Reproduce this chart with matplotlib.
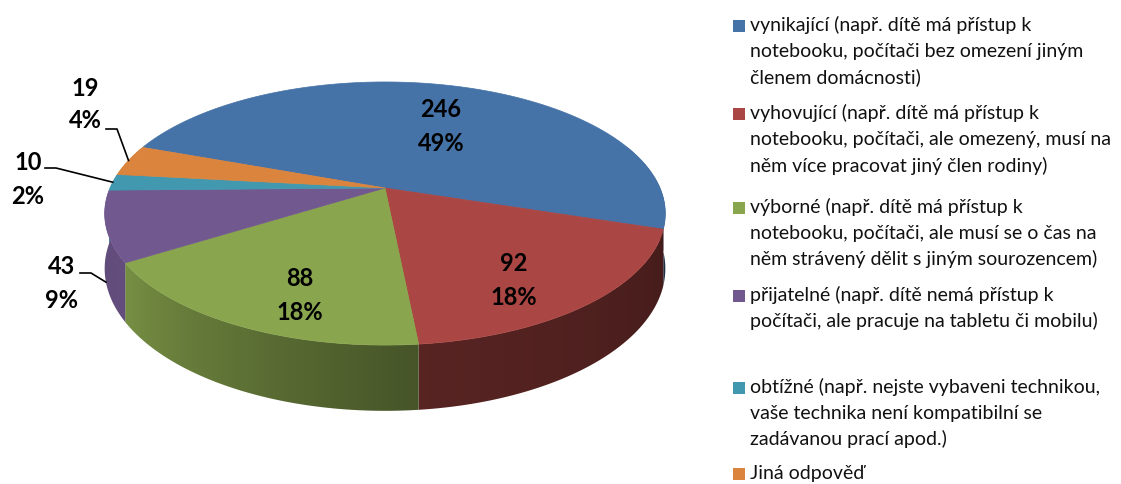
import numpy as np
import matplotlib
matplotlib.use("Agg")
import matplotlib.pyplot as plt
from matplotlib.patches import Polygon, Rectangle
from matplotlib.colors import to_rgb

plt.rcParams['font.family'] = ['Lato', 'DejaVu Sans']

# data
labels = [
    ["vynikající (např. dítě má přístup k", "notebooku, počítači bez omezení jiným", "členem domácnosti)"],
    ["vyhovující (např. dítě má přístup k", "notebooku, počítači, ale omezený, musí na", "něm více pracovat jiný člen rodiny)"],
    ["výborné (např. dítě má přístup k", "notebooku, počítači, ale musí se o čas na", "něm strávený dělit s jiným sourozencem)"],
    ["přijatelné (např. dítě nemá přístup k", "počítači, ale pracuje na tabletu či mobilu)"],
    ["obtížné (např. nejste vybaveni technikou,", "vaše technika není kompatibilní se", "zadávanou prací apod.)"],
    ["Jiná odpověď"],
]
values = [246, 92, 88, 43, 10, 19]
colors = ["#4572A7", "#AA4643", "#89A54E", "#71588F", "#4198AF", "#DB843D"]

# pie geometry (pixels)
cx, cy = 385, 188
A, B, k, H = 275, 126.6, 0.194, 53
start = 160.0


def proj(theta, r=1.0, down=0.0):
    t = np.radians(theta)
    f = 1.0 / (1.0 + k * r * np.sin(t))
    return cx + A * r * np.cos(t) * f, cy - B * r * np.sin(t) * f + down * f


def shade(theta):
    return np.interp(theta, [-200, -150, -86, -20, 20], [0.82, 0.88, 0.52, 0.41, 0.4])


fig = plt.figure(figsize=(11.21, 4.84), dpi=100)
ax = fig.add_axes([0, 0, 1, 1])

total = sum(values)
bounds = start - 360 * np.concatenate([[0], np.cumsum(values)]) / total

# map screen x on the front rim back to an angle, for shading
front_t = np.linspace(-169, -11, 400)
front_x, _ = proj(front_t)

# side walls with horizontal gradient
for i, v in enumerate(values):
    a0, a1 = bounds[i], bounds[i + 1]
    lo, hi = max(a1, -200), min(a0, 20)
    if lo >= hi:
        continue
    ts = np.linspace(hi, lo, 300)
    xt, yt = proj(ts)
    xb, yb = proj(ts[::-1], down=H)
    pts = list(zip(xt, yt)) + list(zip(xb, yb))
    poly = Polygon(pts, closed=True, fc="none", ec="none")
    ax.add_patch(poly)
    x0, x1 = min(xt.min(), xb.min()) - 2, max(xt.max(), xb.max()) + 2
    y0, y1 = min(yt.min(), yb.min()) - 2, max(yt.max(), yb.max()) + 2
    cols = np.linspace(x0, x1, int(x1 - x0) + 1)
    th = np.interp(cols, front_x, front_t)
    base = np.array(to_rgb(colors[i]))
    img = base[None, None, :] * shade(th)[None, :, None]
    im = ax.imshow(img, extent=(x0, x1, y1, y0), aspect="auto", interpolation="bilinear")
    im.set_clip_path(poly)

# top faces
for i, v in enumerate(values):
    ts = np.linspace(bounds[i], bounds[i + 1], 200)
    xs, ys = proj(ts)
    pts = [(cx, cy)] + list(zip(xs, ys))
    ax.add_patch(Polygon(pts, closed=True, fc=colors[i], ec=colors[i], lw=0.5))

pct = [round(100 * v / total) for v in values]
fs = 17

# inside labels
for i in range(3):
    mid = (bounds[i] + bounds[i + 1]) / 2
    x, y = proj(mid, r=0.65)
    x += 4
    y += max(0, -np.sin(np.radians(mid))) * 18 + 8
    ax.text(x, y - 17, str(values[i]), ha="center", va="center", fontsize=fs, fontweight="bold")
    ax.text(x, y + 17, f"{pct[i]}%", ha="center", va="center", fontsize=fs, fontweight="bold")

# outside labels with leaders: (label x, first line y, leader start, depth share)
outside = {
    5: (85, 88, (106, 129), 0.0),
    4: (28, 163, (45, 168), 0.0),
    3: (62, 267, (80, 273), 1.0),
}
for i, (lx, ly, (sx, sy), dep) in outside.items():
    ax.text(lx, ly, str(values[i]), ha="center", va="center", fontsize=fs, fontweight="bold")
    ax.text(lx, ly + 33, f"{pct[i]}%", ha="center", va="center", fontsize=fs, fontweight="bold")
    mid = (bounds[i] + bounds[i + 1]) / 2
    ex, ey = proj(mid, down=H * dep)
    ax.plot([sx, sx + 11, ex], [sy, sy, ey], color="black", lw=1.2)

# legend
entry_y = [25.5, 114, 207.5, 296, 387.5, 474]
for i, lines in enumerate(labels):
    ax.add_patch(Rectangle((733, entry_y[i] - 6), 12, 12, fc=colors[i], ec="none"))
    for j, line in enumerate(lines):
        ax.text(750, entry_y[i] + 26.5 * j + 5, line, ha="left", va="baseline",
                fontsize=14, color="#111111")

ax.set_xlim(0, 1121)
ax.set_ylim(484, 0)
ax.axis("off")

fig.savefig("out.png", dpi=100)
